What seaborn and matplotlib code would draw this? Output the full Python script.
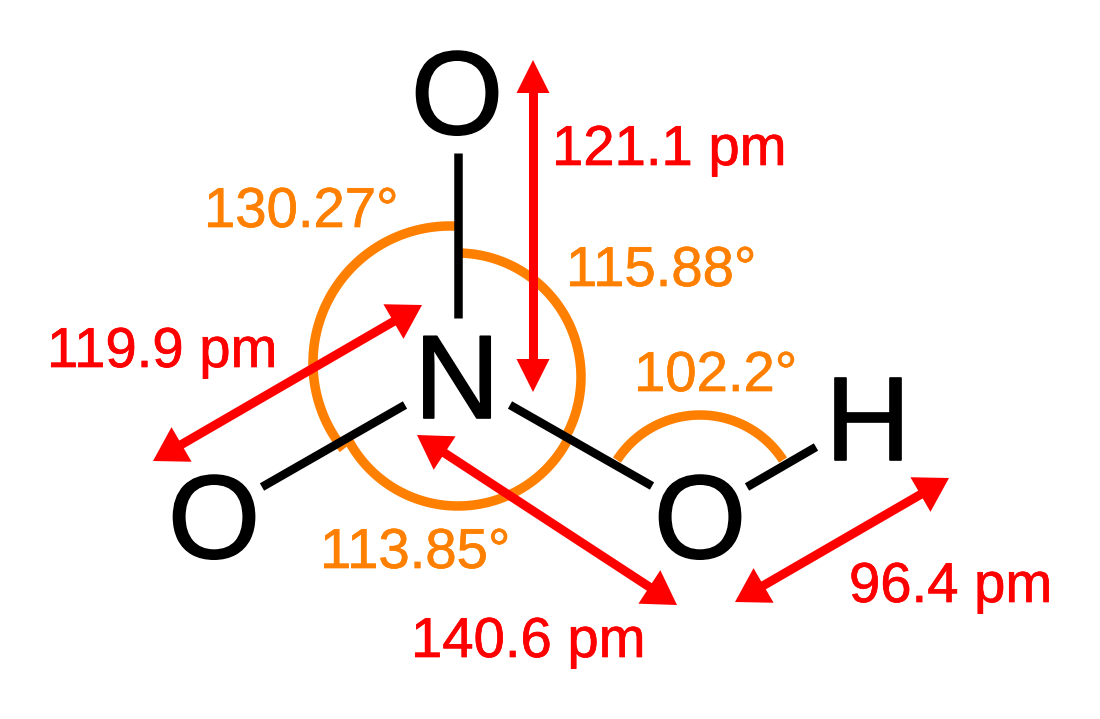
import numpy as np
import pandas as pd
import matplotlib
matplotlib.use("Agg")
import matplotlib.pyplot as plt
import matplotlib.patheffects as pe
import seaborn as sns

sns.set_theme(style="white")
plt.rcParams["font.family"] = ["Liberation Sans", "DejaVu Sans"]
plt.rcParams["lines.solid_capstyle"] = "butt"

BLACK, ORANGE, RED = "#000000", "#ff8000", "#ff0000"
PX = 72 / 100  # one pixel in points

atom_labels = ["O", "N", "O", "O", "H"]
atom_x = [457, 457, 214, 700, 868]
atom_y = [134, 418, 558, 558, 460]

bond_x1 = [458, 405, 510, 747]
bond_y1 = [153, 405, 405, 487]
bond_x2 = [458, 262, 652, 816]
bond_y2 = [318, 487, 486, 447]

arc_cx = [450, 457, 458, 700]
arc_cy = [363, 377, 382, 514]
arc_r = [137, 124, 124, 99]
arc_start = [141, -90, 153, 213]
arc_end = [273, 27, 28, 327]

arrow_x1 = [533, 422, 417, 949]
arrow_y1 = [60, 305, 435, 478]
arrow_x2 = [533, 153, 677, 735]
arrow_y2 = [392, 461, 605, 602]
arrow_head_w = [33, 40, 40, 40]

length_labels = ["121.1 pm", "119.9 pm", "140.6 pm", "96.4 pm"]
length_x = [552, 47, 411, 849]
length_y = [165, 367, 657, 602]

angle_labels = ["130.27°", "115.88°", "102.2°", "113.85°"]
angle_x = [204, 566, 634, 320]
angle_y = [227, 286, 391, 568]

fig = plt.figure(figsize=(11, 7.19), dpi=100, facecolor="white")
ax = fig.add_axes([0, 0, 1, 1])


def segment(xs, ys, color, z, width=8.5):
    frame = pd.DataFrame({"x": xs, "y": ys})
    sns.lineplot(data=frame, x="x", y="y", color=color, linewidth=width * PX,
                 estimator=None, sort=False, errorbar=None, ax=ax, zorder=z,
                 solid_capstyle="butt")


for cx, cy, r, a0, a1 in zip(arc_cx, arc_cy, arc_r, arc_start, arc_end):
    t = np.radians(np.linspace(a0, a1, 90))
    segment(cx + r * np.cos(t), cy + r * np.sin(t), ORANGE, 1, 9.5)

for x1, y1, x2, y2 in zip(bond_x1, bond_y1, bond_x2, bond_y2):
    segment([x1, x2], [y1, y2], BLACK, 2, 8.5)

HEAD_L = 33
for x1, y1, x2, y2, head_w in zip(arrow_x1, arrow_y1, arrow_x2, arrow_y2, arrow_head_w):
    a, b = np.array([x1, y1], float), np.array([x2, y2], float)
    u = (b - a) / np.linalg.norm(b - a)
    n = np.array([-u[1], u[0]])
    segment([a[0] + u[0] * 20, b[0] - u[0] * 20],
            [a[1] + u[1] * 20, b[1] - u[1] * 20], RED, 3, 9)
    for tip, d in ((a, u), (b, -u)):
        base = tip + d * HEAD_L
        pts = np.array([tip, base + n * head_w / 2, base - n * head_w / 2])
        ax.fill(pts[:, 0], pts[:, 1], color=RED, lw=0, zorder=3)


def label(s, x, y, size, color, ha, stroke):
    ax.text(x, y, s, fontsize=size, color=color, ha=ha, va="baseline", zorder=4,
            path_effects=[pe.withStroke(linewidth=stroke, foreground=color)])


for s, x, y in zip(atom_labels, atom_x, atom_y):
    label(s, x, y, 85.5, BLACK, "center", 1.2)
for s, x, y in zip(length_labels, length_x, length_y):
    label(s, x, y, 40.5, RED, "left", 0.5)
for s, x, y in zip(angle_labels, angle_x, angle_y):
    label(s, x, y, 40.5, ORANGE, "left", 0.5)

ax.set_xlim(0, 1100)
ax.set_ylim(719, 0)
ax.axis("off")
fig.savefig("out.png", dpi=100, facecolor="white")
